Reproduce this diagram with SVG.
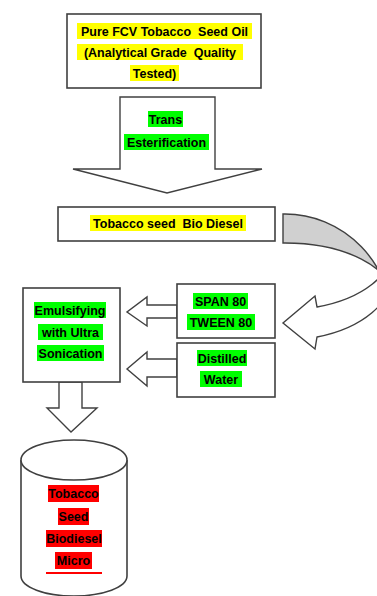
<svg xmlns="http://www.w3.org/2000/svg" width="377" height="596" viewBox="0 0 377 596">
  <style>
    .box { fill: #ffffff; stroke: #404040; stroke-width: 1.6; }
    .arrow { fill: #ffffff; stroke: #404040; stroke-width: 1.4; stroke-linejoin: miter; }
    .back { fill: #d0d0d0; stroke: #404040; stroke-width: 1.4; }
    .t { font-family: "Liberation Sans", Arial, sans-serif; font-size: 12.5px; font-weight: bold; fill: #000000; text-anchor: middle; white-space: pre; }
    .hy { fill: #ffff00; }
    .hg { fill: #00ff00; }
    .hr { fill: #ff0000; }
  </style>

  <rect width="377" height="596" fill="#ffffff"/>

  <!-- connectors: block arrows and the curved return arrow -->
  <g id="connectors">
    <polygon class="arrow" points="120,97 215,97 215,169 262,169 167,193 73,169 120,169"/>
    <!-- shaded back of the curved arrow (runs past the right edge) -->
    <path class="back" d="M 283,214 L 285,214 A 108 112 0 0 1 393,326 L 393,298 A 108 55 0 0 0 285,243 L 283,243 Z"/>
    <!-- front band and head of the curved arrow -->
    <path class="arrow" d="M 317,307 A 108 62.5 0 0 0 393,247 L 393,273 A 108 67 0 0 1 317,337 L 315,349 L 283,323 L 315,296 Z"/>
    <polygon class="arrow" points="177,305 147,305 147,297 127,312 147,326 147,318 177,318"/>
    <polygon class="arrow" points="177,359 147,359 147,352 127,369 147,386 147,377 177,377"/>
    <polygon class="arrow" points="59,382 59,408 47,408 71,432 97,408 82,408 82,382"/>
  </g>

  <!-- labels carried on the transesterification arrow -->
  <g id="trans-label">
    <rect class="hg" x="148" y="111" width="35" height="16"/>
    <rect class="hg" x="124" y="134" width="85" height="16"/>
    <text class="t" x="165.5" y="123.5">Trans</text>
    <text class="t" x="166.5" y="146.5">Esterification</text>
  </g>

  <g id="seed-oil">
    <rect class="box" x="67" y="14" width="194" height="74"/>
    <rect class="hy" x="77" y="23" width="175" height="16"/>
    <rect class="hy" x="77" y="44" width="166" height="16"/>
    <rect class="hy" x="130" y="65" width="49" height="16"/>
    <text class="t" x="164.5" y="35.5">Pure FCV Tobacco  Seed Oil</text>
    <text class="t" x="160" y="56.5">(Analytical Grade  Quality</text>
    <text class="t" x="154.5" y="77.5">Tested)</text>
  </g>

  <g id="bio-diesel">
    <rect class="box" x="58" y="207" width="217" height="34"/>
    <rect class="hy" x="90" y="215" width="156" height="16"/>
    <text class="t" x="168" y="227.5">Tobacco seed  Bio Diesel</text>
  </g>

  <g id="emulsifying">
    <rect class="box" x="23" y="288" width="97" height="94"/>
    <rect class="hg" x="34" y="302" width="72" height="16"/>
    <rect class="hg" x="38" y="324" width="65" height="16"/>
    <rect class="hg" x="37" y="345" width="67" height="16"/>
    <text class="t" x="70" y="314.5">Emulsifying</text>
    <text class="t" x="70.5" y="336.5">with Ultra</text>
    <text class="t" x="70.5" y="357.5">Sonication</text>
  </g>

  <g id="surfactants">
    <rect class="box" x="177" y="284" width="98" height="54"/>
    <rect class="hg" x="193" y="293" width="55" height="16"/>
    <rect class="hg" x="187" y="314" width="68" height="16"/>
    <text class="t" x="220.5" y="305.5">SPAN 80</text>
    <text class="t" x="221" y="326.5">TWEEN 80</text>
  </g>

  <g id="water">
    <rect class="box" x="177" y="343" width="98" height="54"/>
    <rect class="hg" x="197" y="350" width="50" height="16"/>
    <rect class="hg" x="200" y="371" width="42" height="16"/>
    <text class="t" x="222" y="362.5">Distilled</text>
    <text class="t" x="221" y="383.5">Water</text>
  </g>

  <g id="micro-emulsion">
    <path class="box" d="M 21,460 L 21,576 A 53 20 0 0 0 127,576 L 127,460"/>
    <ellipse class="box" cx="74" cy="460" rx="53" ry="20"/>
    <rect class="hr" x="48" y="485" width="51" height="17"/>
    <rect class="hr" x="58" y="508" width="31" height="17"/>
    <rect class="hr" x="46" y="530" width="56" height="17"/>
    <rect class="hr" x="55" y="552" width="37" height="17"/>
    <rect class="hr" x="46" y="572" width="56" height="2"/>
    <text class="t" x="73.5" y="497.5">Tobacco</text>
    <text class="t" x="73.5" y="520.5">Seed</text>
    <text class="t" x="74" y="542.5">Biodiesel</text>
    <text class="t" x="73.5" y="564.5">Micro</text>
  </g>
</svg>
